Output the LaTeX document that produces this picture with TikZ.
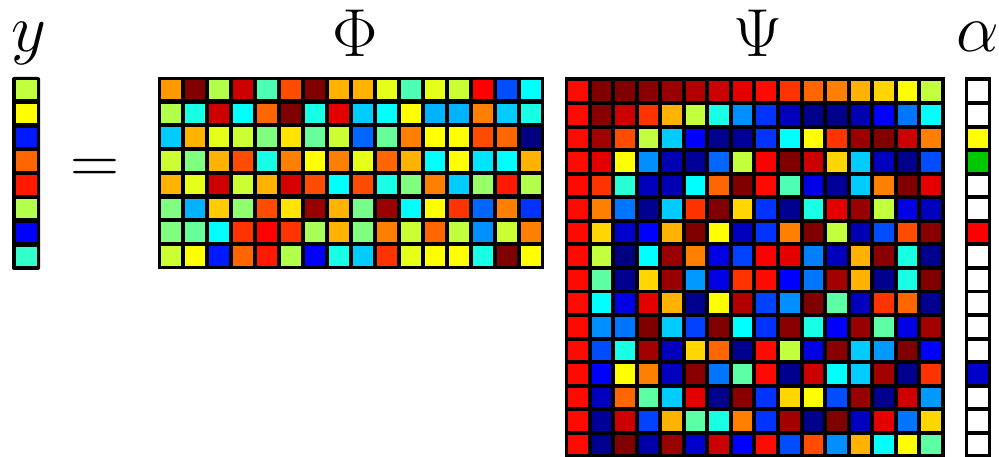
\documentclass[tikz,border=0pt]{standalone}
\usepackage{xcolor}
\usepackage{tikz}
\usetikzlibrary{positioning}
\definecolor{alphayellow}{HTML}{FFFF00}
\definecolor{alphagreen}{HTML}{00C800}
\definecolor{alphared}{HTML}{FF0000}
\definecolor{alphablue}{HTML}{0000C8}

% jet colour map square: x, y, width, height, value (0..20)
\newcommand{\jetsq}[5]{%
  \pgfmathsetmacro{\jr}{max(0,min(1,1.5-abs(#5/5-3)))}%
  \pgfmathsetmacro{\jg}{max(0,min(1,1.5-abs(#5/5-2)))}%
  \pgfmathsetmacro{\jb}{max(0,min(1,1.5-abs(#5/5-1)))}%
  \definecolor{jetc}{rgb}{\jr,\jg,\jb}%
  \fill[jetc] (#1,#2) rectangle ++(#3,#4);%
}

\begin{document}
\begin{tikzpicture}[
  x=1pt, y=-1pt,
  cellbg/.style={fill=black},
  vlabel/.style={inner sep=0pt, font=\Huge, scale=2.73}
]
  \useasboundingbox (0,0) rectangle (999,457);
  \clip (0,0) rectangle (999,457);

  % Labels
  \node[vlabel] (ylab) at (28.5,43) {$y$};
  \node[vlabel] (eq) at (95,171.5) {$=$};
  \node[vlabel] (philab) at (355,33) {$\Phi$};
  \node[vlabel] (psilab) at (757.5,33.7) {$\Psi$};
  \node[vlabel] (alab) at (977.5,37) {$\alpha$};

  % Measurement vector y
  \fill[cellbg, rounded corners=2pt] (12,77) rectangle (40,270);
  \foreach \v [count=\i from 0] in {11.3,12.5,3,15.5,17,11,2.5,8.5}{
    \jetsq{15.7}{80+23.8*\i}{21}{19.5}{\v}
  }

  % Sensing matrix Phi (8 x 16)
  \fill[cellbg] (157.5,77) rectangle (543.5,269);
  \foreach \row [count=\i from 0] in {
    {14.5,20,11,18.5,9,16,20,14,14,12,9,12,11.5,17.5,4,7.5},
    {11,8,18.5,7.5,15.5,20,8,18,6.5,7.5,12.5,6,6,15,6.5,8},
    {6.5,14,12,11.5,10,13,9.5,11.5,4.5,9.5,15,12.5,12.5,16,15.5,0},
    {11.5,10,14,16,8,15,12.5,15,12,15.5,14,7.5,12.5,7,7.5,14},
    {14,12,18.5,11.5,14,18.3,16,7.5,16,8,10,15,6.5,10.5,17,11},
    {10,6,13.5,10.3,16,13,19.5,14,9.8,19.5,7.5,12.5,16.5,4.5,15,3.5},
    {10,9.5,7.5,16.5,17.5,16.5,10.8,14,10,15,11.5,15.5,11.3,5.3,11.5,15},
    {11.5,12.5,3,15.5,17,11,2.5,8,6.5,16.5,12,12.5,12.5,8,20,12.5}}{
    \foreach \v [count=\j from 0] in \row{
      \jetsq{161+24*\j}{80+23.75*\i}{20}{19.5}{\v}
    }
  }

  % Basis Psi (16 x 16)
  \fill[cellbg] (564.5,77.5) rectangle (944.5,460);
  \foreach \row [count=\i from 0] in {
    {17.3,20,20,19.8,19.5,19,18.5,18,17.3,16.5,15.5,15,14,13.3,12.5,11.3},
    {17.3,19.8,18.5,16.5,14,11.3,8,5.3,3.5,1.2,0.2,0.2,1,2.5,4.8,7.5},
    {17.3,19.3,16,11.3,6.5,2.5,0.3,0.5,3.5,7.5,12.5,16.5,19.5,20,18.5,15},
    {17.3,18,12.5,5.3,1,0.5,4.5,11.3,17.5,20,18.5,13.3,6.5,1.2,0.2,4},
    {17.3,16.5,8.3,1.2,1,7.5,15.5,20,17.3,9,2,0.5,6.5,15,20,18},
    {17.3,15,4.8,0.3,6.5,16.5,20,13.3,3.5,0.3,8,18,19.5,11.3,2,1.2},
    {17.3,13.3,1.5,2.5,14,20,12.5,1.2,3.5,15,20,11.3,1,4,16,19.8},
    {17.3,11.3,0,7.5,19.5,15,2,3.8,17.5,18,5,1.2,14,19.8,8,0.3},
    {17.3,9.3,0.3,13.3,19.5,5.5,2,16.5,17.3,2.5,4.8,19.3,14,0.3,8,20},
    {17.3,7.5,2,18,14,0.3,12.5,19,3.8,5.3,20,9.3,1.2,16.5,15.5,0.3},
    {17.3,5.3,4.8,20,6.5,3.8,20,7.5,3.5,19.8,8,2.5,19.5,9.3,2,19.3},
    {17.3,4,8,19.3,1.2,13.3,15.5,0.3,17.3,11.3,2,19.8,6.5,5.5,20,2.5},
    {17.3,2.5,12.5,15,1.2,19.8,4.8,9.3,17.3,0.3,18.5,7.5,6.5,19.3,0.3,16.5},
    {17.3,1.2,15.5,9.3,6.5,18,0.3,19.8,3.5,13.3,12.5,4,19.5,0.3,18.5,5.5},
    {17.3,0.5,18.5,3.8,14,9.3,8,15,3.5,19.3,0.3,20,1.2,18,4.8,13.3},
    {17.3,0.3,20,0.8,19.5,1.5,18.5,2.5,17.3,4,16,5.3,14,7.5,12.5,9.3}}{
    \foreach \v [count=\j from 0] in \row{
      \jetsq{568+23.55*\j}{81.5+23.55*\i}{19.6}{19.6}{\v}
    }
  }

  % Sparse coefficients alpha
  \fill[cellbg] (965,77.5) rectangle (991,460);
  \foreach \c [count=\i from 0] in {white,white,alphayellow,alphagreen,white,white,alphared,white,
                                    white,white,white,white,alphablue,white,white,white}
    \fill[\c] (968.3,81.5+23.55*\i) rectangle ++(19.5,19.6);
\end{tikzpicture}
\end{document}
